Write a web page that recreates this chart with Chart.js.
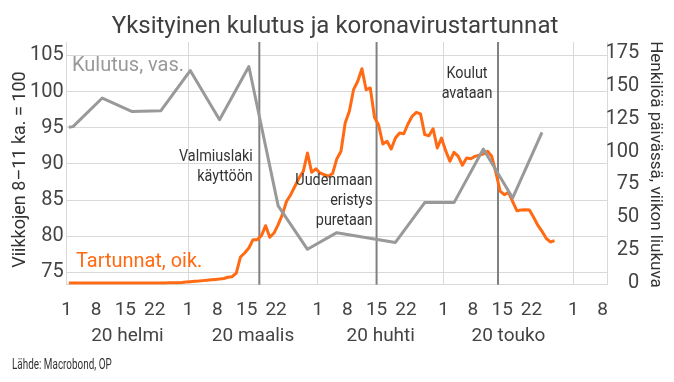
<!DOCTYPE html>
<html><head><meta charset="utf-8">
<script src="https://cdn.jsdelivr.net/npm/chart.js@4"></script>
<style>html,body{margin:0;padding:0;background:#fff;}#wrap{width:674px;height:382px;}</style>
</head><body><div id="wrap"><canvas id="c" width="674" height="382"></canvas></div>
<script>
// ---- data ----
// Day offsets from 1 Feb 2020 (2020 is a leap year)
const monthStarts = [0, 29, 60, 90, 121];
const monthLabels = ['20 helmi', '20 maalis', '20 huhti', '20 touko'];
const dayOfMonthTicks = [1, 8, 15, 22];
const leftTicks = [75, 80, 85, 90, 95, 100, 105];
const rightTicks = [0, 25, 50, 75, 100, 125, 150, 175];

// Private consumption, weekly (index, weeks 8-11 avg = 100), left axis
const kulutusDays = [0, 1, 8, 15, 22, 29, 36, 43, 50, 57, 64, 78, 85, 92, 99, 106, 113];
const kulutus = [95.05, 95.15, 99.1, 97.25, 97.35, 102.9, 96.1, 103.45, 84.2, 78.2, 80.5, 79.15, 84.65, 84.65, 92.05, 85.3, 94.35];

// New coronavirus cases, 7-day moving average, daily from 1 Feb, right axis
const tartunnat = [
  0,0,0,0,0,0,0,0,0,0,
  0,0,0,0,0,0,0,0,0,0,
  0,0,0,0,0.1,0.1,0.2,0.4,0.7,1.0,
  1.3,1.5,1.8,2.1,2.4,2.7,3.0,3.4,4.4,4.8,
  7.5,19.8,22.8,26.6,33,33,36,43.6,34.8,38,
  44.4,52,62.2,67.2,73.6,80,85,98.9,84.2,86.8,
  83.7,82.5,81.3,83.3,94.4,100.2,121.8,130.7,147.1,153.5,
  163.1,147.1,148.4,126.1,120,105.8,107.8,102,110.3,114.2,
  113.6,121,126.9,129.9,128.7,112.9,112.1,117.4,102.7,110.3,
  100.7,92.6,99.5,96.4,89.6,95.1,94.6,96.4,97.3,98.2,
  100.2,96.4,84,70,67.2,69,62,55,55.5,55.8,
  55.5,50,44,39.3,34,31.2,32.2
];

// Event markers
const eventDays = [46, 74, 103];
const eventTexts = [['Valmiuslaki', 'käyttöön'], ['Uudenmaan', 'eristys', 'puretaan'], ['Koulut', 'avataan']];

// ---- derived ----
const dayTicks = [];
const dayTickText = [];
monthStarts.forEach(s => dayOfMonthTicks.forEach(d => {
  const v = s + d - 1;
  if (v <= 129) { dayTicks.push(v); dayTickText.push(String(d)); }
}));
const monthMid = monthLabels.map((_, i) => (monthStarts[i] + monthStarts[i + 1]) / 2);

const GREY = '#999999', ORANGE = '#ff6a13', GRID = '#d9d9d9', TXT = '#444444';
Chart.defaults.font.family = 'Roboto, "Open Sans", sans-serif';

function txt(ctx, s, x, y, size, color, align, sx, rot) {
  ctx.save();
  ctx.translate(x, y);
  if (rot) ctx.rotate(rot);
  ctx.scale(sx || 1, 1);
  ctx.font = size + 'px Roboto, "Open Sans", sans-serif';
  ctx.fillStyle = color;
  ctx.textAlign = align;
  ctx.textBaseline = rot ? 'middle' : 'alphabetic';
  ctx.fillText(s, 0, 0);
  ctx.restore();
}

const overlay = {
  id: 'overlay',
  beforeDatasetsDraw(chart) {
    const { ctx, chartArea, scales } = chart;
    ctx.save();
    ctx.strokeStyle = '#808080';
    ctx.lineWidth = 2;
    eventDays.forEach(d => {
      const px = scales.x.getPixelForValue(d);
      ctx.beginPath();
      ctx.moveTo(px, chartArea.top);
      ctx.lineTo(px, chartArea.bottom);
      ctx.stroke();
    });
    ctx.restore();
  },
  afterDraw(chart) {
    const { ctx, scales } = chart;
    // title and source
    txt(ctx, 'Yksityinen kulutus ja koronavirustartunnat', 335, 33, 24, '#404040', 'center');
    txt(ctx, 'Lähde: Macrobond, OP', 12, 369, 15, '#333333', 'left', 0.66);
    // series labels
    txt(ctx, 'Kulutus, vas.', 72, 70.5, 20, GREY, 'left');
    txt(ctx, 'Tartunnat, oik.', 76, 267, 21, ORANGE, 'left', 0.95);
    // axis titles
    txt(ctx, 'Viikkojen 8–11 ka. = 100', 20, 169.5, 18, '#333333', 'center', 1, -Math.PI / 2);
    txt(ctx, 'Henkilöä päivässä, viikon liukuva', 655, 164.5, 17, '#333333', 'center', 1, Math.PI / 2);
    // event labels
    const p0 = scales.x.getPixelForValue(eventDays[0]);
    const p1 = scales.x.getPixelForValue(eventDays[1]);
    const p2 = scales.x.getPixelForValue(eventDays[2]);
    eventTexts[0].forEach((s, i) => txt(ctx, s, p0 - 6.5, 160.7 + i * 20, 16, '#333333', 'right', 0.9));
    eventTexts[1].forEach((s, i) => txt(ctx, s, p1 - 4, 184.5 + i * 20, 16, '#333333', 'right', 0.9));
    eventTexts[2].forEach((s, i) => txt(ctx, s, p2 - 31, 78.3 + i * 20, 16, '#333333', 'center', 0.9));
  }
};

const X_MIN = 0, X_MAX = 129.1;

new Chart(document.getElementById('c'), {
  type: 'line',
  data: {
    datasets: [
      {
        label: 'Kulutus, vas.',
        data: kulutusDays.map((d, i) => ({ x: d + 0.5, y: kulutus[i] })),
        xAxisID: 'x', yAxisID: 'y',
        borderColor: GREY, borderWidth: 3, pointRadius: 0, tension: 0,
        borderJoinStyle: 'round', fill: false
      },
      {
        label: 'Tartunnat, oik.',
        data: tartunnat.map((v, i) => ({ x: i + 0.5, y: v })),
        xAxisID: 'x', yAxisID: 'y2',
        borderColor: ORANGE, borderWidth: 3, pointRadius: 0, tension: 0,
        borderJoinStyle: 'round', fill: false
      }
    ]
  },
  options: {
    responsive: false, animation: false, devicePixelRatio: 1,
    layout: { padding: { top: 42, left: 0, right: 34.7, bottom: 0 } },
    plugins: { legend: { display: false }, tooltip: { enabled: false }, title: { display: false } },
    scales: {
      x: {
        type: 'linear', position: 'bottom', weight: 0, min: X_MIN, max: X_MAX,
        afterBuildTicks: s => { s.ticks = dayTicks.map(v => ({ value: v })); },
        ticks: { autoSkip: false, maxRotation: 0, padding: 14, color: TXT, font: { size: 19 },
          callback: (v, i) => dayTickText[i] },
        grid: { drawTicks: false, lineWidth: 1,
          color: c => (c.tick && monthStarts.slice(1).includes(c.tick.value)) ? GRID : 'rgba(0,0,0,0)' },
        border: { display: true, color: GRID },
        afterFit: s => { s.height = 33; }
      },
      xm: {
        type: 'linear', position: 'bottom', weight: 1, min: X_MIN, max: X_MAX,
        afterBuildTicks: s => { s.ticks = monthMid.map(v => ({ value: v })); },
        ticks: { autoSkip: false, maxRotation: 0, padding: 7, color: TXT, font: { size: 19 },
          callback: (v, i) => monthLabels[i] },
        grid: { display: false, drawTicks: false },
        border: { display: false },
        afterFit: s => { s.height = 64.3; }
      },
      y: {
        position: 'left', min: 73.31, max: 106.84,
        afterBuildTicks: s => { s.ticks = leftTicks.map(v => ({ value: v })); },
        ticks: { padding: 3, color: TXT, font: { size: 20 } },
        grid: { color: GRID, drawTicks: false },
        border: { display: true, color: GRID },
        afterFit: s => { s.width = 66.7; }
      },
      y2: {
        position: 'right', min: -1.3, max: 183.4,
        afterBuildTicks: s => { s.ticks = rightTicks.map(v => ({ value: v })); },
        ticks: { padding: 0, crossAlign: 'far', color: TXT, font: { size: 20 } },
        grid: { display: false, drawTicks: false },
        border: { display: true, color: GRID },
        afterFit: s => { s.width = 32; }
      }
    }
  },
  plugins: [overlay]
});
</script></body></html>
